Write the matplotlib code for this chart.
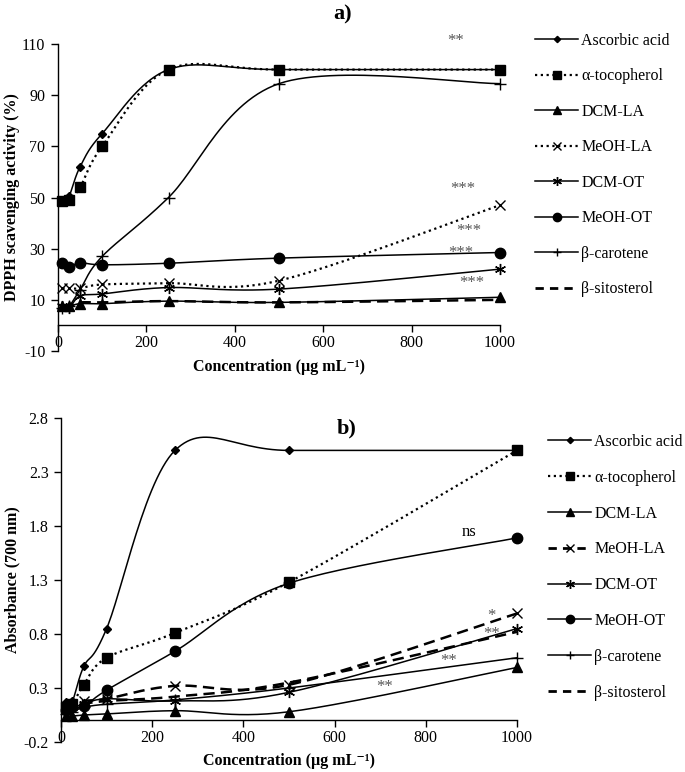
import numpy as np
import matplotlib
matplotlib.use("Agg")
import matplotlib.pyplot as plt
from matplotlib.lines import Line2D

plt.rcParams['font.family'] = ['Liberation Serif', 'DejaVu Serif']

# ---------------- data ----------------
conc = [10, 25, 50, 100, 250, 500, 1000]
series = ["Ascorbic acid", "α-tocopherol", "DCM-LA", "MeOH-LA", "DCM-OT", "MeOH-OT", "β-carotene", "β-sitosterol"]

dpph_ascorbic = [48.5, 50.5, 62, 75, 100, 100, 100]
dpph_tocopherol = [48.5, 49, 54, 70, 100, 100, 100]
dpph_dcm_la = [7.5, 7.5, 8.5, 8.5, 9.5, 9, 11]
dpph_meoh_la = [14.5, 14.5, 14.5, 16, 16.5, 17.5, 47]
dpph_dcm_ot = [7.5, 7, 11.5, 12.3, 14.8, 14.2, 22]
dpph_meoh_ot = [24.5, 23, 24.5, 23.7, 24.3, 26.3, 28.5]
dpph_carotene = [7, 7.5, 14, 27, 50, 94.5, 94.5]
dpph_sitosterol = [8, 8, 9, 9, 9.5, 9, 10]

abs_ascorbic = [0.17, 0.18, 0.50, 0.85, 2.50, 2.50, 2.50]
abs_tocopherol = [0.12, 0.15, 0.33, 0.58, 0.81, 1.28, 2.50]
abs_dcm_la = [0.04, 0.04, 0.05, 0.06, 0.09, 0.08, 0.49]
abs_meoh_la = [0.12, 0.14, 0.18, 0.20, 0.32, 0.33, 0.99]
abs_dcm_ot = [0.10, 0.12, 0.15, 0.20, 0.18, 0.26, 0.85]
abs_meoh_ot = [0.10, 0.12, 0.13, 0.28, 0.64, 1.27, 1.69]
abs_carotene = [0.06, 0.08, 0.12, 0.15, 0.19, 0.30, 0.58]
abs_sitosterol = [0.08, 0.10, 0.15, 0.18, 0.22, 0.35, 0.82]

dpph_notes = [("**", 900, 111), ("***", 915, 53.5), ("***", 930, 37), ("***", 912, 28.5), ("***", 935, 16.5)]
abs_notes = [("*", 943, 0.97), ("**", 945, 0.80), ("**", 850, 0.55), ("**", 710, 0.31)]

# styles: (marker, markersize, linestyle_a, linestyle_b)
styles = [
    ("D", 4, "-", "-"),
    ("s", 7, ":", ":"),
    ("^", 6.5, "-", "-"),
    ("x", 7, ":", "--"),
    ((6, 2, 0), 8, "-", "-"),
    ("o", 7.5, "-", "-"),
    ("+", 8, "-", "-"),
    (None, 0, "--", "--"),
]

W, H = 685, 772
fig = plt.figure(figsize=(W / 100, H / 100), dpi=100)


def smooth_plot(ax, x, y, ls, lw):
    pts = ax.transData.transform(np.column_stack([x, y]))
    n = len(pts)
    out = [pts[0]]
    t = np.linspace(0, 1, 30)[1:]
    for i in range(n - 1):
        p0 = pts[max(i - 1, 0)]
        p1 = pts[i]
        p2 = pts[i + 1]
        p3 = pts[min(i + 2, n - 1)]
        c1 = p1 + (p2 - p0) / 6.0
        c2 = p2 - (p3 - p1) / 6.0
        seg = ((1 - t) ** 3)[:, None] * p1 + (3 * (1 - t) ** 2 * t)[:, None] * c1 \
            + (3 * (1 - t) * t ** 2)[:, None] * c2 + (t ** 3)[:, None] * p2
        out.extend(seg)
    out = np.array(out)
    d = ax.transData.inverted().transform(out)
    dashes = {"-": "-", ":": (0, (1, 1.6)), "--": (0, (4.5, 2.5))}[ls]
    ax.plot(d[:, 0], d[:, 1], color="black", lw=lw, linestyle=dashes, clip_on=False)


def setup_axes(rect, ylim, yticks, ylabels):
    ax = fig.add_axes(rect)
    ax.set_xlim(0, 1000)
    ax.set_ylim(*ylim)
    for s in ["top", "right"]:
        ax.spines[s].set_visible(False)
    ax.spines["bottom"].set_position(("data", 0))
    ax.spines["left"].set_linewidth(1.0)
    ax.spines["bottom"].set_linewidth(1.0)
    ax.set_xticks(range(0, 1001, 200))
    ax.set_yticks(yticks)
    ax.set_yticklabels(ylabels)
    ax.tick_params(direction="out", length=5, width=1, labelsize=11.5, pad=4)
    ax.tick_params(axis="x", pad=2)
    return ax


def draw_panel(ax, data, b_panel):
    for (label, vals, st) in zip(series, data, styles):
        marker, ms, ls_a, ls_b = st
        ls = ls_b if b_panel else ls_a
        lw = 1.8 if ls == "--" else (1.6 if ls == ":" else 1.1)
        smooth_plot(ax, conc, vals, ls, lw)
        if marker is not None:
            ax.plot(conc, vals, linestyle="none", marker=marker, ms=ms, color="black",
                    mew=1.0, clip_on=False, zorder=5)


def legend_handles(b_panel):
    hs = []
    for label, st in zip(series, styles):
        marker, ms, ls_a, ls_b = st
        ls = ls_b if b_panel else ls_a
        dashes = {"-": "-", ":": (0, (1, 1.6)), "--": (0, (3, 2.2))}[ls]
        lw = 2.0 if ls == "--" else (1.6 if ls == ":" else 1.1)
        hs.append(Line2D([], [], color="black", linestyle=dashes, lw=lw, marker=marker,
                         ms=ms * 0.8 if marker is not None else 0, label=label))
    return hs


xlab = "Concentration (µg mL\u207b\u00b9)"

# ---------- panel a ----------
axa = setup_axes([58 / W, 1 - 351 / H, (500 - 58) / W, (351 - 44) / H],
                 (-10, 110), list(range(-10, 111, 20)), [str(v) for v in range(-10, 111, 20)])
data_a = [dpph_ascorbic, dpph_tocopherol, dpph_dcm_la, dpph_meoh_la, dpph_dcm_ot,
          dpph_meoh_ot, dpph_carotene, dpph_sitosterol]
draw_panel(axa, data_a, False)
for txt, xx, yy in dpph_notes:
    axa.text(xx, yy, txt, ha="center", va="center", fontsize=12, color="#555555")
fig.text(343 / W, 1 - 14 / H, "a)", ha="center", va="center", fontsize=16, fontweight="bold")
fig.text(279 / W, 1 - 367 / H, xlab, ha="center", va="center",
         fontsize=11.5, fontweight="bold")
fig.text(12 / W, 1 - 197 / H, "DPPH scavenging activity (%)", ha="center", va="center",
         fontsize=11.5, fontweight="bold", rotation=90)
fig.legend(handles=legend_handles(False), loc="upper left",
           bbox_to_anchor=(535 / W, 1 - 33 / H), frameon=False, fontsize=11.5,
           labelspacing=1.22, handlelength=2.7, handletextpad=0.2, borderpad=0, borderaxespad=0)

# ---------- panel b ----------
bt = [-0.2, 0.3, 0.8, 1.3, 1.8, 2.3, 2.8]
axb = setup_axes([61 / W, 1 - 742 / H, (517 - 61) / W, (742 - 418) / H],
                 (-0.2, 2.8), bt, ["%.1f" % v for v in bt])
data_b = [abs_ascorbic, abs_tocopherol, abs_dcm_la, abs_meoh_la, abs_dcm_ot,
          abs_meoh_ot, abs_carotene, abs_sitosterol]
draw_panel(axb, data_b, True)
for txt, xx, yy in abs_notes:
    axb.text(xx, yy, txt, ha="center", va="center", fontsize=12, color="#555555")
axb.text(895, 1.74, "ns", ha="center", va="center", fontsize=12, color="black")
fig.text(347 / W, 1 - 428 / H, "b)", ha="center", va="center", fontsize=16, fontweight="bold")
fig.text(289 / W, 1 - 761 / H, xlab, ha="center", va="center",
         fontsize=11.5, fontweight="bold")
fig.text(12 / W, 1 - 580 / H, "Absorbance (700 nm)", ha="center", va="center",
         fontsize=11.5, fontweight="bold", rotation=90)
fig.legend(handles=legend_handles(True), loc="upper left",
           bbox_to_anchor=(548 / W, 1 - 434 / H), frameon=False, fontsize=11.5,
           labelspacing=1.24, handlelength=2.7, handletextpad=0.2, borderpad=0, borderaxespad=0)

fig.savefig("out.png", dpi=100)
